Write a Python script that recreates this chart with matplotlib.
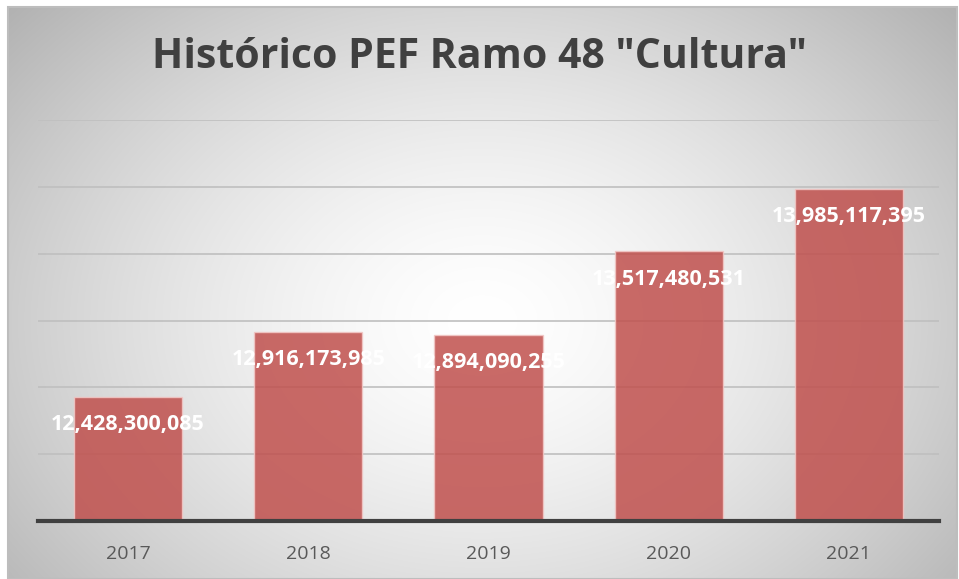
import numpy as np
import matplotlib
matplotlib.use("Agg")
import matplotlib.pyplot as plt
from matplotlib.patches import Rectangle

years = ["2017", "2018", "2019", "2020", "2021"]
values = [12428300085, 12916173985, 12894090255, 13517480531, 13985117395]
labels = ["12,428,300,085", "12,916,173,985", "12,894,090,255", "13,517,480,531", "13,985,117,395"]
title = 'Histórico PEF Ramo 48 "Cultura"'

W, H = 959, 579
fig = plt.figure(figsize=(W / 100, H / 100), dpi=100)
fig.patch.set_facecolor("white")

# background radial gradient (chart area)
bx0, by0, bx1, by1 = 8 / W, 0, 957 / W, 1 - 7 / H
bg = fig.add_axes([bx0, by0, bx1 - bx0, by1 - by0], zorder=0)
yy, xx = np.mgrid[0:1:300j, 0:1:500j]
r = np.sqrt(((xx - 0.5) / 0.6) ** 2 + ((yy - 0.55) / 0.75) ** 2)
g = 1.0 - 0.26 * np.clip(r, 0, 1.2) ** 1.5
img = np.dstack([g, g, g])
bg.imshow(img, aspect="auto", extent=[0, 1, 0, 1], interpolation="bilinear")
bg.set_axis_off()
bg.add_patch(Rectangle((0, 0), 1, 1, transform=bg.transAxes, fill=False,
                       edgecolor="#bdbdbd", linewidth=1.5, clip_on=False))

ax = fig.add_axes([38 / W, 1 - 521 / H, (939 - 38) / W, (521 - 120) / H], zorder=1)
ax.patch.set_alpha(0)
x = np.arange(len(years))
ax.bar(x, values, width=0.6, color="#c0504d", alpha=0.85,
       edgecolor="#f2c8c6", linewidth=1.0, zorder=3)
ax.set_ylim(11.5e9, 14.5e9)
ax.set_xlim(-0.5, len(years) - 0.5)
ax.set_yticks(np.arange(11.5e9, 14.51e9, 0.5e9))
ax.yaxis.grid(True, color="#bfbfbf", linewidth=1.2, zorder=0)
ax.tick_params(axis="y", left=False, labelleft=False)
ax.tick_params(axis="x", bottom=False, labelsize=14, labelcolor="#595959", pad=14)
ax.set_xticks(x)
ax.set_xticklabels(years, family="Open Sans")
for s in ["top", "right", "left"]:
    ax.spines[s].set_visible(False)
ax.spines["bottom"].set_color("#404040")
ax.spines["bottom"].set_linewidth(3)
ax.spines["bottom"].set_zorder(4)

for xi, v, lab in zip(x, values, labels):
    ax.annotate(lab, (xi, v), xytext=(0, -28), textcoords="offset pixels",
                ha="center", va="center", color="white", fontsize=15.5,
                fontweight="bold", family="Open Sans", zorder=5)

fig.text(0.5, 1 - 58 / H, title, ha="center", va="center", fontsize=29.5,
         fontweight="bold", color="#404040", family="Open Sans")

fig.savefig("out.png", dpi=100)
